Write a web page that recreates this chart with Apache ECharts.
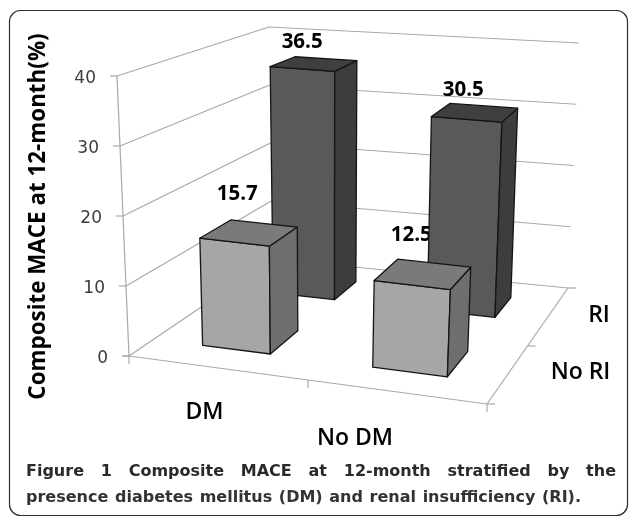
<!DOCTYPE html>
<html>
<head>
<meta charset="utf-8">
<script src="https://cdn.jsdelivr.net/npm/echarts@6/dist/echarts.min.js"></script>
<style>
html,body{margin:0;padding:0;background:#fff;}
#chart{width:629px;height:517px;}
</style>
</head>
<body>
<div id="chart"></div>
<script>
var categories = ['DM', 'No DM'];
var depths = ['No RI', 'RI'];
var noRiValues = [15.7, 12.5];
var riValues = [36.5, 30.5];
var yTicks = [0, 10, 20, 30, 40];
var yTitle = 'Composite MACE at 12-month(%)';
var captionLines = [
	['Figure', '1', 'Composite', 'MACE', 'at', '12-month', 'stratified', 'by', 'the'],
	['presence', 'diabetes', 'mellitus', '(DM)', 'and', 'renal', 'insufficiency', '(RI).']
];

var FONT = '"Open Sans", "Noto Sans", sans-serif';
var CAPTION_FONT = 'bold 16px "DejaVu Sans", sans-serif';
var yMax = 40;

// box corners of the 3d plot, used for the projection: floor then ceiling
var floorBox = [[129, 356], [487, 404], [568, 288], [272, 259]];
var topBox = [[117, 76], [501, 116], [579, 43], [269, 27]];

// footprint of the bars inside the floor, 0..1
var catSpan = [[0.14, 0.335], [0.63, 0.845]];
var depthSpan = [[0.175, 0.4], [0.7, 0.875]];

var barStyle = [
	{front: '#a6a6a6', top: '#7a7a7a', side: '#6e6e6e'},
	{front: '#595959', top: '#3f3f3f', side: '#3d3d3d'}
];
var labelLift = [39, 22];

function mix(a, b, t) {
	return [a[0] + (b[0] - a[0]) * t, a[1] + (b[1] - a[1]) * t];
}
function bilinear(box, u, v) {
	return mix(mix(box[0], box[1], u), mix(box[3], box[2], u), v);
}
// u along categories, v along depth, value along height
function project(u, v, value) {
	return mix(bilinear(floorBox, u, v), bilinear(topBox, u, v), value / yMax);
}

var barRows = [];
[1, 0].forEach(function (d) {
	var vals = d === 0 ? noRiValues : riValues;
	categories.forEach(function (c, i) {
		barRows.push([i, d, vals[i]]);
	});
});

function poly(api, pts, fill) {
	return {
		type: 'polygon',
		shape: {points: pts.map(function (p) { return api.coord(p); })},
		style: {fill: fill, stroke: '#141414', lineWidth: 1.3, lineJoin: 'round'}
	};
}

function renderBar(params, api) {
	var c = catSpan[api.value(0)], d = depthSpan[api.value(1)], val = api.value(2);
	var st = barStyle[api.value(1)];
	var u0 = c[0], u1 = c[1], v0 = d[0], v1 = d[1];
	return {
		type: 'group',
		children: [
			poly(api, [project(u0, v0, 0), project(u1, v0, 0), project(u1, v0, val), project(u0, v0, val)], st.front),
			poly(api, [project(u1, v0, 0), project(u1, v1, 0), project(u1, v1, val), project(u1, v0, val)], st.side),
			poly(api, [project(u0, v0, val), project(u1, v0, val), project(u1, v1, val), project(u0, v1, val)], st.top)
		]
	};
}

function renderBarLabel(params, api) {
	var c = catSpan[api.value(0)], d = depthSpan[api.value(1)], val = api.value(2);
	var p = api.coord(project((c[0] + c[1]) / 2, (d[0] + d[1]) / 2, val));
	return {
		type: 'text',
		x: p[0] - 12,
		y: p[1] - labelLift[api.value(1)],
		style: {
			text: String(val), fill: '#000', font: '700 20.5px ' + FONT,
			align: 'center', verticalAlign: 'middle'
		}
	};
}

function gridLine(api, a, b, w) {
	var p = api.coord(a), q = api.coord(b);
	return {
		type: 'line',
		shape: {x1: p[0], y1: p[1], x2: q[0], y2: q[1]},
		style: {stroke: '#a8a8a8', lineWidth: w || 1.2}
	};
}

function renderTick(params, api) {
	var t = api.value(0);
	var front = project(0, 0, t);
	var p = api.coord(front);
	return {
		type: 'group',
		children: [
			gridLine(api, front, project(0, 1, t)),
			gridLine(api, project(0, 1, t), project(1, 1, t)),
			gridLine(api, front, [front[0] - 7, front[1]]),
			{
				type: 'text', x: p[0] - 21, y: p[1] + 3,
				style: {
					text: String(t), fill: '#3c3c3c', font: '17px "DejaVu Sans", sans-serif',
					align: 'right', verticalAlign: 'middle'
				}
			}
		]
	};
}

// axis lines and the ticks on the floor
function renderFrame(params, api) {
	var a = project(0, 0, 0), b = project(1, 0, 0), c = project(1, 1, 0);
	var children = [
		gridLine(api, project(0, 0, yMax), a),
		gridLine(api, a, b),
		gridLine(api, b, c),
		gridLine(api, [a[0] - 6, a[1]], a)
	];
	[0, 0.5, 1].forEach(function (u) {
		var p = project(u, 0, 0);
		children.push(gridLine(api, p, [p[0], p[1] + 8]));
	});
	[0, 0.5, 1].forEach(function (v) {
		var p = project(1, v, 0);
		children.push(gridLine(api, p, [p[0] + 8, p[1]]));
	});
	return {type: 'group', children: children};
}

function axisText(text, x, y) {
	return {
		type: 'text', x: x, y: y, silent: true,
		style: {text: text, fill: '#000', font: '600 23px ' + FONT, align: 'center', verticalAlign: 'middle'}
	};
}

// caption is justified in the journal layout, so the words are spread by hand
function captionGraphics() {
	var ctx = document.createElement('canvas').getContext('2d');
	var out = [];
	var spans = [[26, 616, 472, '#2a2a2a'], [26, 581, 498, '#333']];
	captionLines.forEach(function (words, n) {
		ctx.font = CAPTION_FONT;
		var total = 0;
		words.forEach(function (w) { total += ctx.measureText(w).width; });
		var gap = (spans[n][1] - spans[n][0] - total) / (words.length - 1);
		var x = spans[n][0];
		words.forEach(function (w) {
			out.push({
				type: 'text', x: x, y: spans[n][2], silent: true,
				style: {text: w, fill: spans[n][3], font: CAPTION_FONT, align: 'left', verticalAlign: 'middle'}
			});
			x += ctx.measureText(w).width + gap;
		});
	});
	return out;
}

var chart = echarts.init(document.getElementById('chart'), null, {renderer: 'canvas'});
var option = {
	animation: false,
	backgroundColor: '#fff',
	grid: {left: 0, right: 0, top: 0, bottom: 0},
	xAxis: {type: 'value', min: 0, max: 629, show: false},
	yAxis: {type: 'value', min: 0, max: 517, inverse: true, show: false},
	tooltip: {show: false},
	graphic: [
		{
			type: 'rect', silent: true,
			shape: {x: 9.5, y: 10.5, width: 618, height: 505, r: 11},
			style: {fill: 'none', stroke: '#2e2e2e', lineWidth: 1.2}
		},
		{
			type: 'text', x: 39, y: 216.5, rotation: Math.PI / 2, silent: true,
			style: {text: yTitle, fill: '#000', font: '700 22.4px ' + FONT, align: 'center', verticalAlign: 'middle'}
		},
		axisText(categories[0], 204.5, 412),
		axisText(categories[1], 355, 438),
		axisText(depths[1], 599, 315),
		axisText(depths[0], 580.5, 372)
	].concat(captionGraphics()),
	series: [
		{type: 'custom', coordinateSystem: 'cartesian2d', z: 1, silent: true, clip: false,
			encode: {x: 0, y: 0}, data: yTicks.map(function (t) { return [t]; }), renderItem: renderTick},
		{type: 'custom', coordinateSystem: 'cartesian2d', z: 1, silent: true, clip: false,
			encode: {x: 0, y: 0}, data: [[0]], renderItem: renderFrame},
		{type: 'custom', coordinateSystem: 'cartesian2d', z: 2, silent: true, clip: false,
			encode: {x: 0, y: 1}, data: barRows, renderItem: renderBarLabel},
		{type: 'custom', coordinateSystem: 'cartesian2d', z: 3, silent: true, clip: false,
			encode: {x: 0, y: 1}, data: barRows, renderItem: renderBar}
	]
};
chart.setOption(option);
</script>
</body>
</html>
